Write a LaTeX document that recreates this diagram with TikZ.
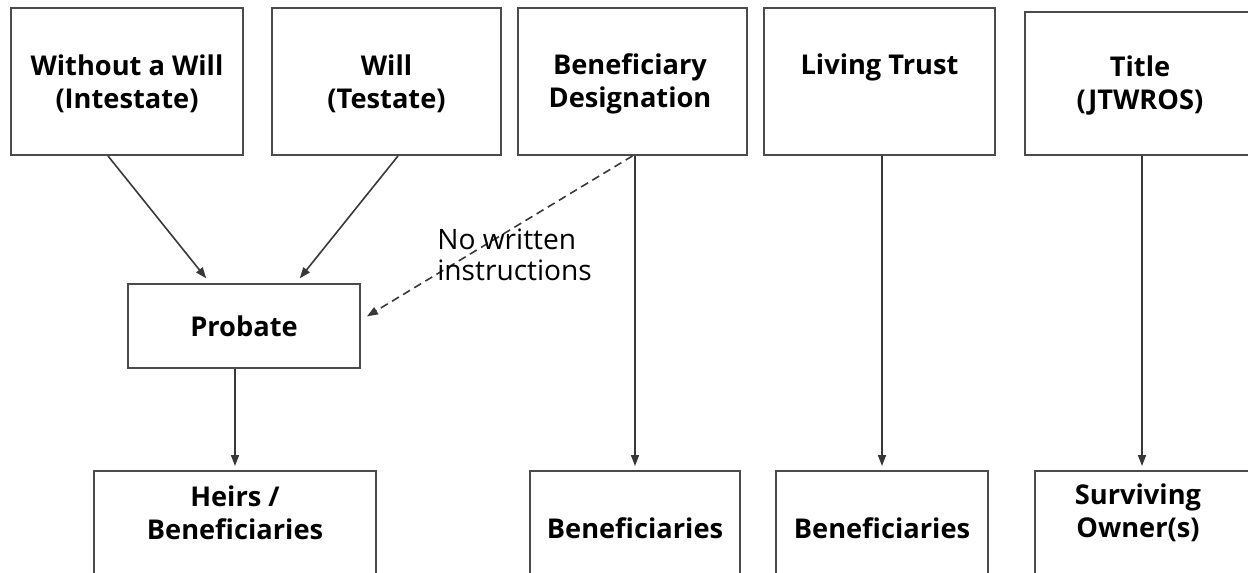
\documentclass[tikz,border=0pt]{standalone}
\usepackage{fontspec}
\setmainfont{Open Sans}
\usetikzlibrary{arrows.meta,calc}

\definecolor{boxline}{RGB}{75,75,75}
\definecolor{arrline}{RGB}{55,55,55}

\tikzset{
    box/.style={draw=boxline, line width=1.1pt, rectangle, inner sep=0pt},
    boxtext/.style={align=center, inner sep=0pt, text=black,
        font=\fontsize{15.5}{18.8}\selectfont\bfseries},
    note/.style={align=left, inner sep=0pt, text=black,
        font=\fontsize{16}{17.5}\selectfont},
    arr/.style={draw=arrline, line width=0.9pt, -{Triangle[length=2.2mm,width=1.6mm]}},
}

\begin{document}
\begin{tikzpicture}[x=0.02cm, y=-0.02cm]
    \useasboundingbox (0,0) rectangle (1248,573);
    \clip (0,0) rectangle (1248,573);

    % Top row
    \node[box, minimum width=4.64cm, minimum height=2.94cm] (wo) at (127,81.5) {};
    \node[boxtext] (wo-t) at (127,83.5) {Without a Will\\(Intestate)};

    \node[box, minimum width=4.58cm, minimum height=2.94cm] (wi) at (386.5,81.5) {};
    \node[boxtext] (wi-t) at (386.5,83.5) {Will\\(Testate)};

    \node[box, minimum width=4.58cm, minimum height=2.94cm] (bd) at (632.5,81.5) {};
    \node[boxtext] (bd-t) at (630,83.5) {Beneficiary\\Designation};

    \node[box, minimum width=4.62cm, minimum height=2.94cm] (lt) at (879.5,81.5) {};
    \node[boxtext] (lt-t) at (879.5,67) {Living Trust};

    \node[box, minimum width=4.68cm, minimum height=2.86cm] (ti) at (1142,83.5) {};
    \node[boxtext] (ti-t) at (1140,85.5) {Title\\(JTWROS)};

    % Probate
    \node[box, minimum width=4.64cm, minimum height=1.68cm, font=\fontsize{15.5}{18.8}\selectfont\bfseries] (pb) at (244,326) {Probate};

    % Bottom row
    \node[box, minimum width=5.64cm, minimum height=3cm] (hb) at (235,546) {};
    \node[boxtext] (hb-t) at (235,512.5) {Heirs /\\Beneficiaries};

    \node[box, minimum width=4.2cm, minimum height=3cm] (b1) at (635,546) {};
    \node[boxtext] (b1-t) at (635,528) {Beneficiaries};

    \node[box, minimum width=4.24cm, minimum height=3cm] (b2) at (882,546) {};
    \node[boxtext] (b2-t) at (882,528) {Beneficiaries};

    \node[box, minimum width=4.28cm, minimum height=3cm] (so) at (1142,546) {};
    \node[boxtext] (so-t) at (1138,513) {Surviving\\Owner(s)};

    % Arrows into probate
    \draw[arr, shorten >=0.12cm] ($(wo.south)+(-19,0)$) -- ($(pb.north)+(-34,0)$);
    \draw[arr, shorten >=0.12cm] ($(wi.south)+(11.5,0)$) -- ($(pb.north)+(52,0)$);
    \draw[arr, dash pattern=on 0.16cm off 0.1cm, shorten >=0.14cm] (bd.south) -- ($(pb.east)+(0,-6)$);
    \node[note, anchor=west] (nw) at (437,255) {No written\\instructions};

    % Straight down
    \draw[arr, shorten >=0.08cm] (hb.north |- pb.south) -- (hb.north);
    \draw[arr, shorten >=0.08cm] (b1.north |- bd.south) -- (b1.north);
    \draw[arr, shorten >=0.08cm] (b2.north |- lt.south) -- (b2.north);
    \draw[arr, shorten >=0.08cm] (so.north |- ti.south) -- (so.north);
\end{tikzpicture}
\end{document}
